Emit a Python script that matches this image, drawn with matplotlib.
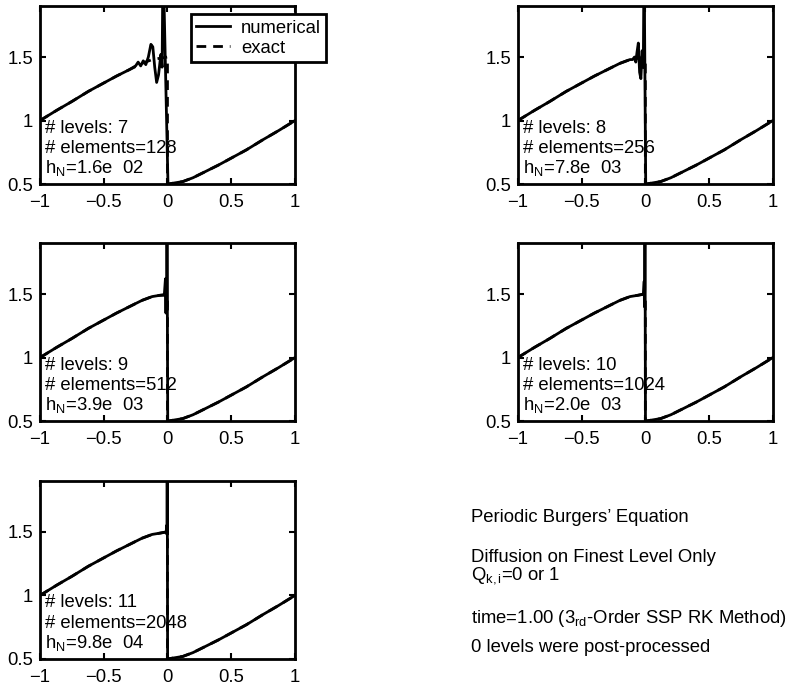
import matplotlib
matplotlib.use("Agg")
import matplotlib.pyplot as plt
import numpy as np

plt.rcParams['font.family'] = ['Liberation Sans', 'DejaVu Sans']
plt.rcParams['mathtext.fontset'] = 'custom'
plt.rcParams['mathtext.rm'] = 'Liberation Sans'
plt.rcParams['mathtext.it'] = 'Liberation Sans'
plt.rcParams['font.size'] = 13.3

# exact solution (left / right of the shock at x=0)
x_left = [-1.00, -0.87, -0.75, -0.62, -0.51, -0.40, -0.30, -0.20, -0.12, -0.06, 0.00]
u_left = [1.00, 1.08, 1.15, 1.23, 1.29, 1.35, 1.40, 1.45, 1.48, 1.49, 1.50]
x_right = [0.00, 0.06, 0.12, 0.20, 0.30, 0.40, 0.51, 0.62, 0.75, 0.87, 1.00]
u_right = [0.50, 0.51, 0.52, 0.55, 0.60, 0.65, 0.71, 0.77, 0.85, 0.92, 1.00]

# numerical solution near the shock, one list per panel
osc_x = [
    [-0.25, -0.23, -0.21, -0.19, -0.17, -0.15, -0.13, -0.115, -0.10, -0.085, -0.07, -0.052, -0.042, -0.035, 0.004],
    [-0.10, -0.085, -0.075, -0.065, -0.055, -0.045, -0.035, -0.025, -0.016, -0.010, 0.003],
    [-0.025, -0.016, -0.012, -0.009, -0.006, -0.004, 0.002],
    [-0.015, -0.009, -0.007, -0.005, -0.003, 0.001],
    [-0.010, -0.006, -0.004, -0.002, 0.001],
]
osc_y = [
    [1.43, 1.46, 1.43, 1.47, 1.44, 1.50, 1.60, 1.58, 1.42, 1.30, 1.36, 1.52, 1.42, 2.30, 0.50],
    [1.48, 1.50, 1.46, 1.54, 1.61, 1.38, 1.33, 1.55, 1.42, 2.30, 0.50],
    [1.49, 1.62, 1.35, 1.58, 1.40, 2.30, 0.50],
    [1.50, 1.60, 1.40, 1.55, 2.30, 0.50],
    [1.50, 1.55, 1.48, 2.30, 0.50],
]

levels = [7, 8, 9, 10, 11]
elements = [128, 256, 512, 1024, 2048]
h_labels = ['1.6e  02', '7.8e  03', '3.9e  03', '2.0e  03', '9.8e  04']

info_lines = [
    'Periodic Burgers\u2019 Equation',
    'Diffusion on Finest Level Only',
    'Q$_{k,i}$=0 or 1',
    'time=1.00 (3$_{\\mathregular{rd}}$-Order SSP RK Method)',
    '0 levels were post-processed',
]
info_y = [0.247, 0.189, 0.162, 0.100, 0.057]

fig = plt.figure(figsize=(7.87, 6.87), dpi=100)

lefts = [0.0508, 0.658]
bottoms = [0.732, 0.387, 0.0408]
w, hgt = 0.324, 0.259

for i in range(5):
    row, col = divmod(i, 2)
    ax = fig.add_axes([lefts[col], bottoms[row], w, hgt])

    # numerical: smooth branch up to the oscillations, then the wiggles + shock, then right branch
    xl = np.array(x_left)
    ul = np.array(u_left)
    keep = xl < osc_x[i][0]
    xn = list(xl[keep]) + osc_x[i] + x_right[1:]
    un = list(ul[keep]) + osc_y[i] + u_right[1:]
    ax.plot(xn, un, color='k', lw=2, label='numerical')

    xe = x_left + x_right
    ue = u_left + u_right
    ax.plot(xe, ue, color='k', lw=2, ls=(0, (3.5, 2.5)), label='exact')

    ax.set_xlim(-1, 1)
    ax.set_ylim(0.5, 1.9)
    ax.set_xticks([-1, -0.5, 0, 0.5, 1])
    ax.set_xticklabels(['\u22121', '\u22120.5', '0', '0.5', '1'])
    ax.set_yticks([0.5, 1, 1.5])
    ax.set_yticklabels(['0.5', '1', '1.5'])
    ax.tick_params(direction='in', top=True, right=True, length=4, width=1.5)
    ax.tick_params(axis='x', pad=7)
    ax.tick_params(axis='y', pad=5)
    for sp in ax.spines.values():
        sp.set_linewidth(2)

    ax.text(0.02, 0.315, '# levels: %d' % levels[i], transform=ax.transAxes, va='center')
    ax.text(0.02, 0.20, '# elements=%d' % elements[i], transform=ax.transAxes, va='center')
    ax.text(0.02, 0.09, 'h$_\\mathregular{N}$=' + h_labels[i], transform=ax.transAxes, va='center')

    if i == 0:
        leg = ax.legend(loc='upper left', bbox_to_anchor=(0.592, 0.955), fancybox=False,
                        edgecolor='k', framealpha=1, handlelength=1.8, handletextpad=0.6,
                        labelspacing=0.15, borderpad=0.3, borderaxespad=0)
        leg.get_frame().set_linewidth(2)

for s, y in zip(info_lines, info_y):
    fig.text(0.598, y, s, va='center', ha='left')

fig.savefig('out.png', dpi=100)
